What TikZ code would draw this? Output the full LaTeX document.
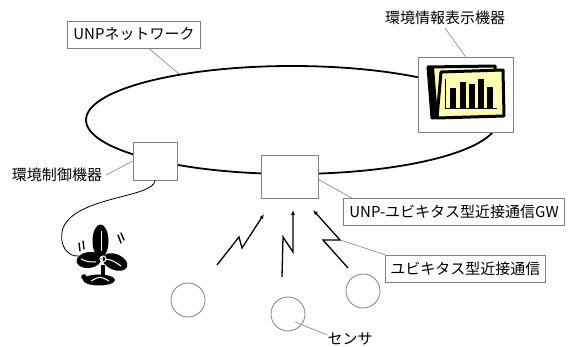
\documentclass[tikz,border=0pt]{standalone}
\usepackage{fontspec}
\setmainfont{Noto Sans CJK JP}
\usetikzlibrary{arrows.meta}
\definecolor{chartyellow}{RGB}{255,255,176}
\tikzset{
  device/.style = {rectangle, draw=gray, fill=white, line width=0.8pt, inner sep=0pt},
  tag/.style    = {rectangle, draw=gray, fill=white, line width=0.8pt, inner xsep=5pt,
                   minimum height=27pt, font=\fontsize{15}{18}\selectfont},
  note/.style   = {inner sep=0pt, font=\fontsize{15}{18}\selectfont},
  sensor/.style = {circle, draw=gray, line width=0.8pt, minimum size=34pt, inner sep=0pt},
  lead/.style   = {draw=gray, line width=0.6pt},
  ring/.style   = {draw=black, line width=1.8pt},
  radio/.style  = {-{Latex[length=5pt,width=4pt]}, line width=1.3pt},
}

\begin{document}
\begin{tikzpicture}[x=1pt, y=-1pt]
      \clip (0,0) rectangle (578,347);

      % network loop
      \draw[ring] (292,120) ellipse [x radius=206pt, y radius=54pt];
      \coordinate (netpt) at (179,74);

      \node[device, minimum width=95pt, minimum height=75pt] (display) at (465.5,94.5) {};
      \node[device, minimum width=44pt, minimum height=38pt] (ctrl)    at (155,161)    {};
      \node[device, minimum width=57pt, minimum height=43pt] (gw)      at (289.5,176.5) {};

      % chart on the display
      \filldraw[fill=chartyellow, draw=black, line width=3pt, line join=round]
        (428,67) -- (495,66) -- (497,112) -- (432,118) -- cycle;
      \fill (428,67) -- (434,67) -- (438,118) -- (432,118) -- cycle;
      \filldraw[fill=chartyellow, draw=black, line width=3pt, line join=round]
        (441,72) -- (503,70) -- (504,116) -- (437,118) -- cycle;
      \foreach \bx/\by in {450/88, 459.5/82, 468.5/84.5, 477.5/79, 487/87.5}
        \fill (\bx,108.5) rectangle (\bx+6,\by);
      \draw[line width=1pt] (445,79) -- (445,108.5) -- (497,108.5);

      % fan
      \fill (100.5,241) ellipse [x radius=8pt, y radius=16.5pt];
      \draw[white, line width=1.2pt] (101.5,231) -- (101.5,251);
      \fill[rotate around={8:(89,260)}] (89,260) ellipse [x radius=12.5pt, y radius=8pt];
      \fill[rotate around={-22:(115,262)}] (115,262) ellipse [x radius=13pt, y radius=8pt];
      \draw[white, line width=1pt] (105,259) .. controls (112,260) .. (121,266);
      \draw[white, line width=1pt] (81,259) .. controls (88,262) .. (96,262);
      \draw[white, line width=1pt] (103,259) circle [radius=3pt];
      \draw[line width=3.2pt] (103,265) -- (103,277);
      \fill (99,280) ellipse [x radius=16pt, y radius=5.5pt];
      \fill (84,277) circle [radius=2.8pt];
      \draw[white, line width=1pt] (91,281) .. controls (100,276) .. (109,281);
      \draw[line width=1.4pt, line cap=round] (79,243) -- (80,251) (83,241) -- (84,249);
      \draw[line width=1.4pt, line cap=round] (118,235) -- (121,243) (121,233) -- (124,240);
      \coordinate (fanplug) at (79,256);

      \node[sensor] (s1) at (188,300) {};
      \node[sensor] (s2) at (288,314) {};
      \node[sensor] (s3) at (363,291) {};

      % radio links into the gateway
      \coordinate (kink) at (340,240);
      \draw[radio] (217,265) -- (239,237) -- (242,248) -- (264,214);
      \draw[radio] (282,277) -- (283,237) -- (293,252) -- (293,210);
      \draw[radio] (348,268) -- (323,240) -- (kink) -- (313,210);

      \draw[line width=0.8pt] (ctrl.south) .. controls (154,198) and (76,196) .. (63,228)
        .. controls (58,246) and (68,257) .. (fanplug);

      \node[tag, anchor=west, inner xsep=6pt] (netlbl)  at (67,34.5)  {UNPネットワーク};
      \node[tag, anchor=west, inner xsep=6pt] (gwlbl)   at (343,212)  {UNP-ユビキタス型近接通信GW};
      \node[tag, anchor=west] (proxlbl) at (385,268.5) {ユビキタス型近接通信};
      \node[note] (displbl) at (445,18)  {環境情報表示機器};
      \node[note] (ctrllbl) at (57,175)  {環境制御機器};
      \node[note] (senslbl) at (350,339) {センサ};

      \draw[lead] ([xshift=15pt]netlbl.south) -- (netpt);
      \draw[lead] ([yshift=-3pt]displbl.south) -- (display.north);
      \draw[lead] ([xshift=4pt]ctrllbl.east) -- (ctrl.west);
      \draw[lead] ([yshift=-3pt]gw.east) -- ([xshift=9pt]gwlbl.north west);
      \draw[lead] (kink) -- (proxlbl.north west);
      \draw[lead] ([xshift=7pt,yshift=-8pt]s2.center) -- ([yshift=4pt]senslbl.west);
    \end{tikzpicture}
\end{document}
